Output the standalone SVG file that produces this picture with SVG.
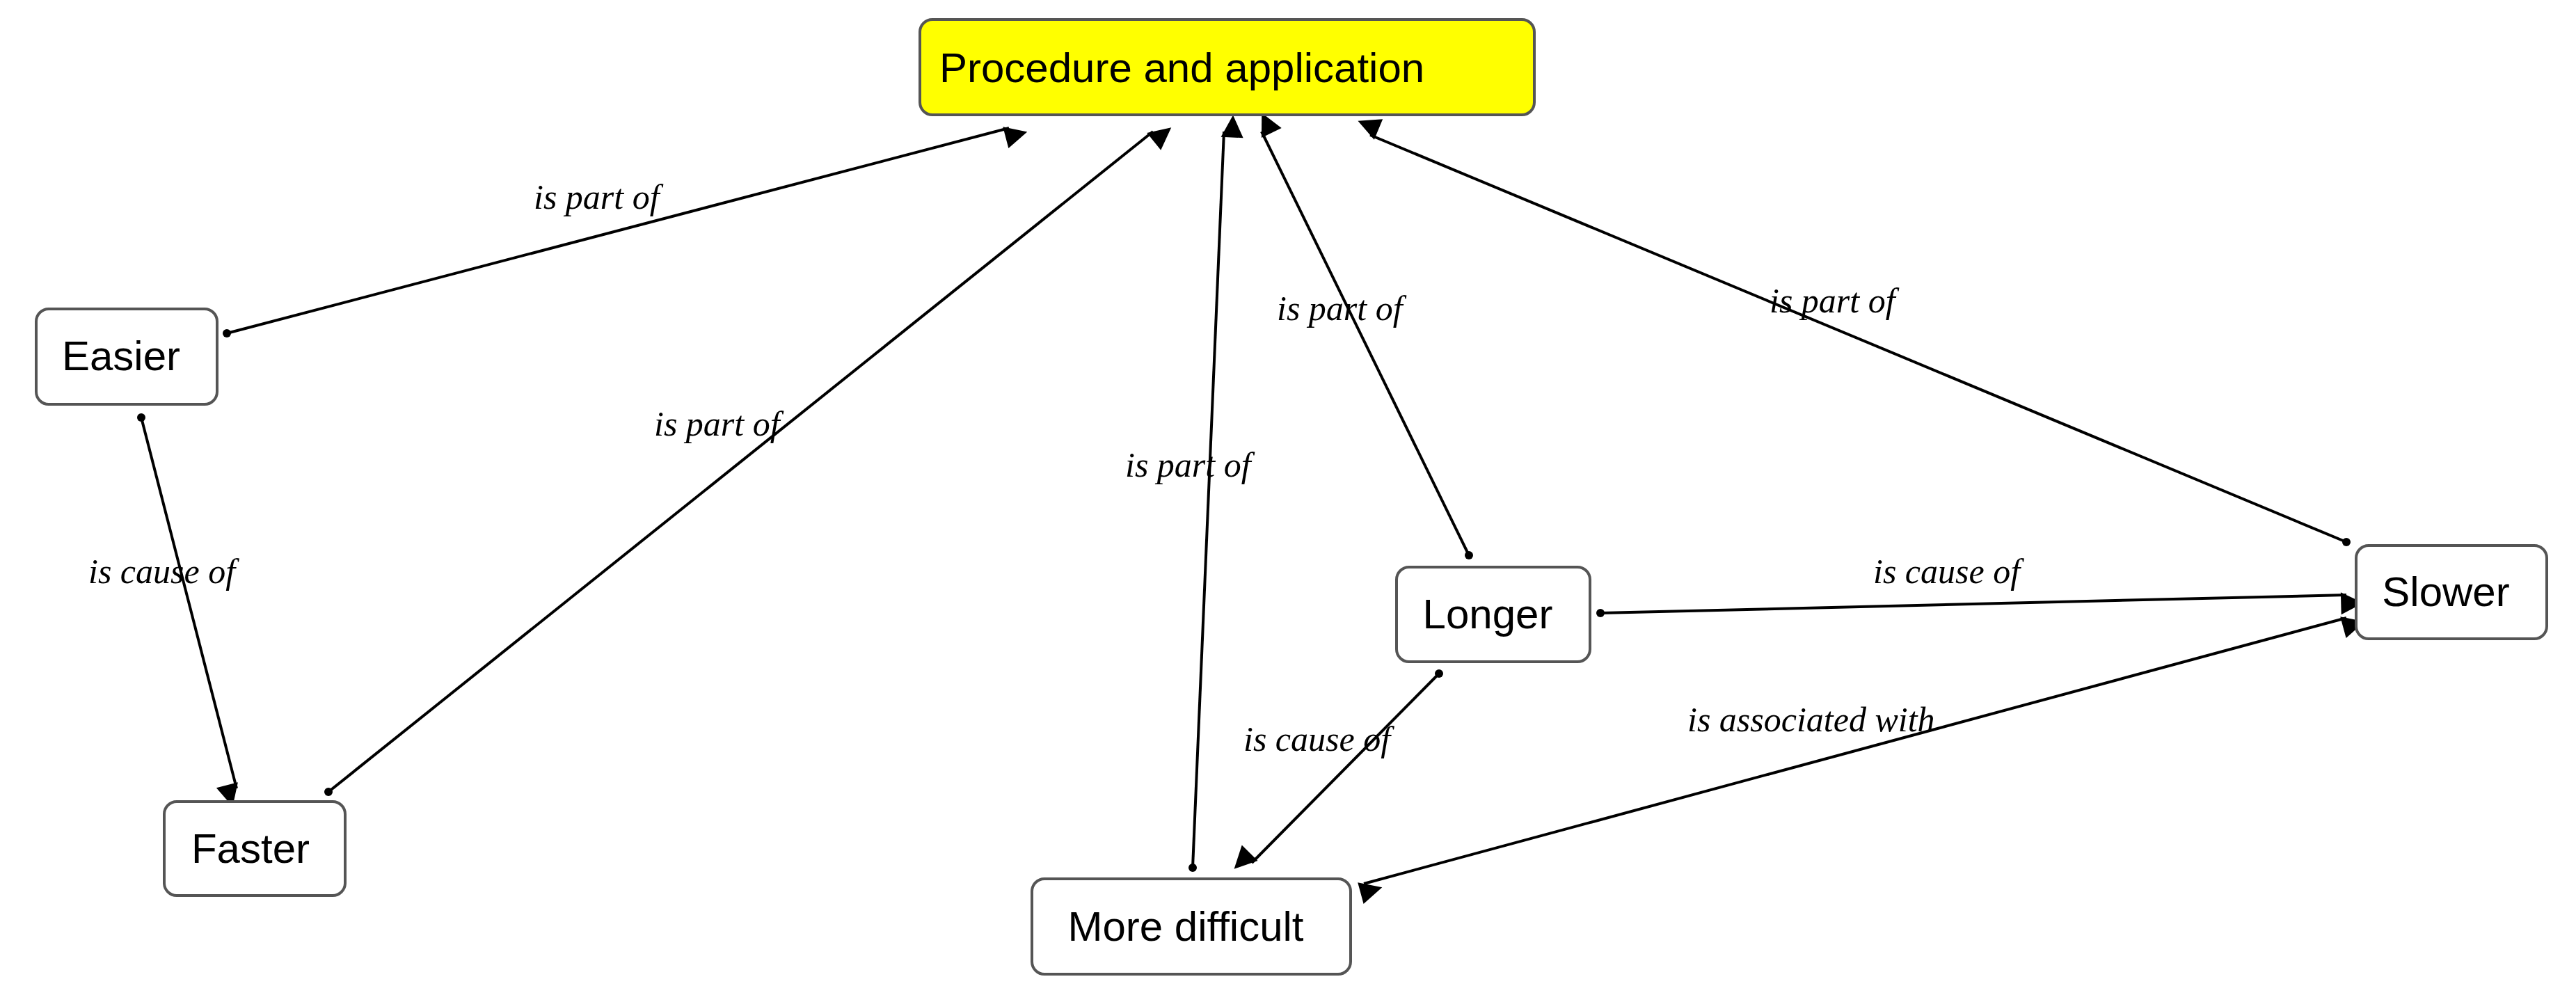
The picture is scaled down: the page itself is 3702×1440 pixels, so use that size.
<svg xmlns="http://www.w3.org/2000/svg" width="3702" height="1440" viewBox="0 0 3702 1440">
<style>
.n rect{fill:#fff;stroke:#555;stroke-width:4}
.n text{font-family:"Liberation Sans",Arial,sans-serif;font-size:60px;fill:#000;text-anchor:middle}
.e line{stroke:#000;stroke-width:4}
.l{font-family:"Liberation Serif","Times New Roman",serif;font-style:italic;font-size:50px;fill:#000}
</style>
<defs>
<marker id="a" viewBox="0 0 10 10" refX="10" refY="5" markerWidth="10" markerHeight="8" markerUnits="userSpaceOnUse" orient="auto" style="overflow:visible"><path d="M0,0 L10,5 L0,10 z" transform="scale(4)" fill="#000"/></marker>
<marker id="d" viewBox="0 0 10 10" refX="5" refY="5" markerWidth="12" markerHeight="12" markerUnits="userSpaceOnUse"><circle cx="5" cy="5" r="5" fill="#000"/></marker>
</defs>
<rect width="3702" height="1440" fill="#fff"/>
<g class="e">
<line x1="326" y1="479" x2="1450" y2="184" marker-start="url(#d)" marker-end="url(#a)"/>
<line x1="472" y1="1138" x2="1657" y2="189" marker-start="url(#d)" marker-end="url(#a)"/>
<line x1="1714" y1="1247" x2="1759" y2="189" marker-start="url(#d)" marker-end="url(#a)"/>
<line x1="2111" y1="798" x2="1813" y2="189" marker-start="url(#d)" marker-end="url(#a)"/>
<line x1="3372" y1="779" x2="1969" y2="194" marker-start="url(#d)" marker-end="url(#a)"/>
<line x1="203" y1="600" x2="340" y2="1133" marker-start="url(#d)" marker-end="url(#a)"/>
<line x1="2300" y1="881" x2="3372" y2="855" marker-start="url(#d)" marker-end="url(#a)"/>
<line x1="2068" y1="968" x2="1799" y2="1240" marker-start="url(#d)" marker-end="url(#a)"/>
<line x1="1960" y1="1270" x2="3372" y2="888" marker-start="url(#a)" marker-end="url(#a)"/>
</g>
<g id="labels">
<text class="l" x="767" y="300">is part of</text>
<text class="l" x="940" y="626">is part of</text>
<text class="l" x="1617" y="685">is part of</text>
<text class="l" x="1835" y="460">is part of</text>
<text class="l" x="2543" y="449">is part of</text>
<text class="l" x="127" y="838">is cause of</text>
<text class="l" x="2692" y="838">is cause of</text>
<text class="l" x="1787" y="1079">is cause of</text>
<text class="l" x="2425" y="1051">is associated with</text>
</g>
<g id="n-proc" class="n"><rect x="1322" y="28" width="883" height="137" rx="18" style="fill:#ffff00"/><text x="1350" y="118" style="text-anchor:start">Procedure and application</text></g>
<g id="n-easier" class="n"><rect x="52" y="444" width="260" height="137" rx="18"/><text x="174" y="532">Easier</text></g>
<g id="n-faster" class="n"><rect x="236" y="1152" width="260" height="135" rx="18"/><text x="360" y="1240">Faster</text></g>
<g id="n-more" class="n"><rect x="1483" y="1263" width="458" height="137" rx="18"/><text x="1704" y="1352">More difficult</text></g>
<g id="n-longer" class="n"><rect x="2007" y="815" width="278" height="136" rx="18"/><text x="2138" y="903">Longer</text></g>
<g id="n-slower" class="n"><rect x="3386" y="784" width="274" height="134" rx="18"/><text x="3515" y="871">Slower</text></g>
</svg>
